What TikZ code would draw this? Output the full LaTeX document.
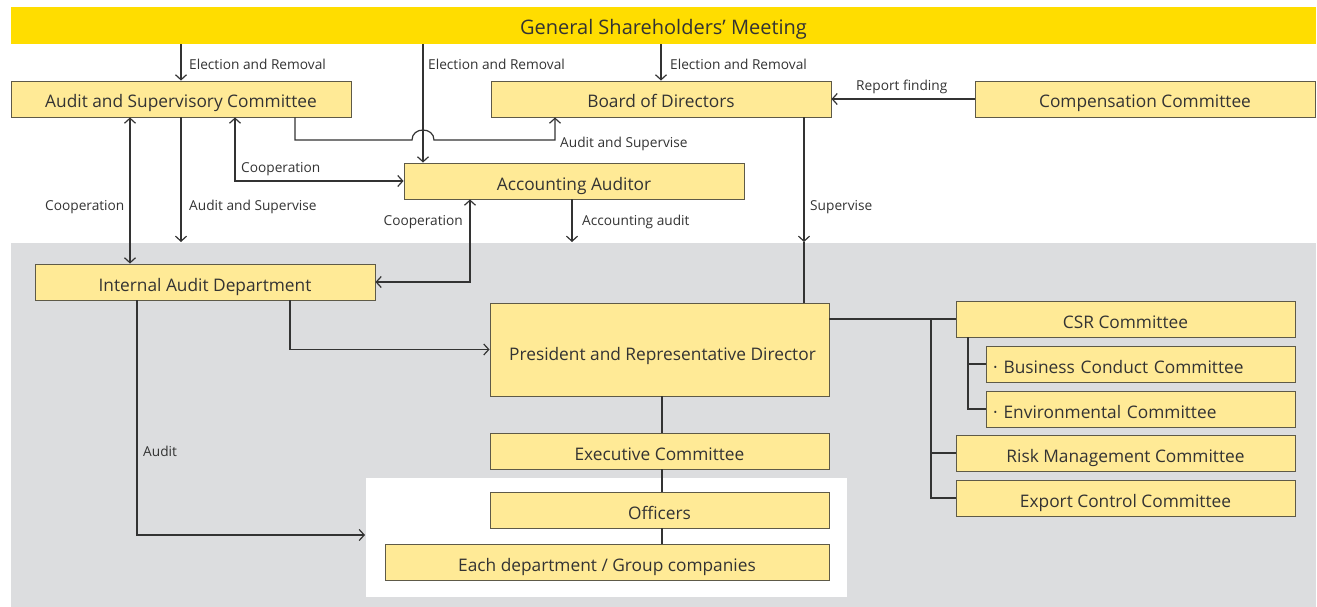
\documentclass[tikz,border=0pt]{standalone}
\usepackage{fontspec}
\setmainfont{Open Sans}
\usetikzlibrary{arrows.meta}
\definecolor{gold}{HTML}{FFDD00}
\definecolor{boxfill}{HTML}{FFEA96}
\definecolor{boxline}{HTML}{5E5A48}
\definecolor{graybg}{HTML}{DCDDDF}
\definecolor{ink}{HTML}{333333}
\tikzset{
  box/.style={draw=boxline, line width=0.9pt, fill=boxfill, text=ink, minimum height=36pt, inner sep=0pt, text height=19pt, text depth=1pt, font=\fontsize{17.3}{19}\selectfont},
  lbl/.style={text=ink, inner sep=0pt, font=\fontsize{13.7}{15}\selectfont},
  conn/.style={draw=ink, line width=1.2pt},
  arr/.style={conn, -{Straight Barb[length=5pt,width=11pt]}},
  arrb/.style={conn, {Straight Barb[length=5pt,width=11pt]}-{Straight Barb[length=5pt,width=11pt]}},
}
\begin{document}
\begin{tikzpicture}[x=1pt,y=-1pt]
\useasboundingbox (0,0) rectangle (1317,607);
% backgrounds
\fill[graybg] (11,243) rectangle (1316,607);
\fill[white] (366,478) rectangle (847,597);
% nodes
\node[fill=gold, minimum width=1305pt, minimum height=37pt, inner sep=0pt, text=ink, text height=20pt, text depth=1pt, font=\fontsize{20}{22}\selectfont] (gsm) at (663.5,25.5) {General Shareholders’ Meeting};
\node[box, minimum width=340pt] (asc) at (181,99) {Audit and Supervisory Committee};
\node[box, minimum width=340pt] (bod) at (661,99) {Board of Directors};
\node[box, minimum width=340pt] (comp) at (1145,99) {Compensation Committee};
\node[box, minimum width=340pt] (aa) at (574,181) {Accounting Auditor};
\node[box, minimum width=340pt] (iad) at (205,282) {Internal Audit Department};
\node[box, minimum width=339pt, minimum height=93pt, text height=21pt, text depth=0pt] (pres) at (659.5,349.5) {\hspace*{6pt}President and Representative Director};
\node[box, minimum width=339pt] (exec) at (659.5,451) {Executive Committee};
\node[box, minimum width=339pt] (off) at (659.5,510) {Officers};
\node[box, minimum width=444pt] (each) at (607,562) {Each department / Group companies};
\node[box, minimum width=339pt] (csr) at (1125.5,319) {CSR Committee};
\node[box, minimum width=309pt, text width=303pt, align=left] (bcc) at (1140.5,364) {\hspace*{4pt}·\hspace{6pt}Business Conduct Committee};
\node[box, minimum width=309pt, text width=303pt, align=left] (env) at (1140.5,409) {\hspace*{4pt}·\hspace{6pt}Environmental Committee};
\node[box, minimum width=339pt] (risk) at (1125.5,453) {Risk Management Committee};
\node[box, minimum width=339pt] (exp) at (1125.5,498) {Export Control Committee};
% free ends
\coordinate (aaEnd) at (572,242);
\coordinate (ascEnd) at (181,242);
\coordinate (supTip) at (804,242);
\coordinate (auditEnd) at (365,535);
% connectors
\draw[arr] (gsm.south -| asc.north) -- (asc.north);
\draw[arr] (gsm.south -| bod.north) -- (bod.north);
\draw[arr] (gsm.south -| 423,0) -- (aa.north -| 423,0);
\draw[arr] (comp.west) -- (bod.east);
\draw[arr] (asc.south -| 295,0) -- (295,140) -- (412,140) .. controls (412,126.7) and (434,126.7) .. (434,140) -- (555,140) -- (bod.south -| 555,0);
\draw[arrb] (asc.south -| 235,0) |- (aa.west);
\draw[arr] (aa.south -| aaEnd) -- (aaEnd);
\draw[arr] (bod.south -| supTip) -- (supTip);
\draw[conn] (supTip) -- (pres.north -| supTip);
\draw[arrb] (asc.south -| 130,0) -- (iad.north -| 130,0);
\draw[arr] (asc.south) -- (ascEnd);
\draw[arrb] (aa.south -| 470,0) |- (iad.east);
\draw[arr] (iad.south -| 290,0) |- (pres.west);
\draw[arr] (iad.south -| 137,0) |- (auditEnd);
\draw[conn] (pres.south -| 662,0) -- (exec.north -| 662,0);
\draw[conn] (exec.south -| 662,0) -- (off.north -| 662,0);
\draw[conn] (off.south -| 662,0) -- (each.north -| 662,0);
\draw[conn] (csr.west -| pres.east) -- (csr.west);
\draw[conn] (csr.west -| 931,0) |- (exp.west);
\draw[conn] (risk.west -| 931,0) -- (risk.west);
\draw[conn] (csr.south -| 968,0) |- (env.west);
\draw[conn] (bcc.west -| 968,0) -- (bcc.west);
% labels
\node[lbl, anchor=west] (l1) at (189,64) {Election and Removal};
\node[lbl, anchor=west] (l2) at (428,64) {Election and Removal};
\node[lbl, anchor=west] (l3) at (670,64) {Election and Removal};
\node[lbl, anchor=west] (l4) at (856,87) {Report finding};
\node[lbl, anchor=west] (l5) at (560,144) {Audit and Supervise};
\node[lbl, anchor=west] (l6) at (241,169) {Cooperation};
\node[lbl, anchor=west] (l7) at (45,207) {Cooperation};
\node[lbl, anchor=west] (l8) at (189,207) {Audit and Supervise};
\node[lbl, anchor=east] (l9) at (463,222) {Cooperation};
\node[lbl, anchor=west] (l10) at (582,222) {Accounting audit};
\node[lbl, anchor=west] (l11) at (810,207) {Supervise};
\node[lbl, anchor=west] (l12) at (143,451) {Audit};
\end{tikzpicture}
\end{document}
